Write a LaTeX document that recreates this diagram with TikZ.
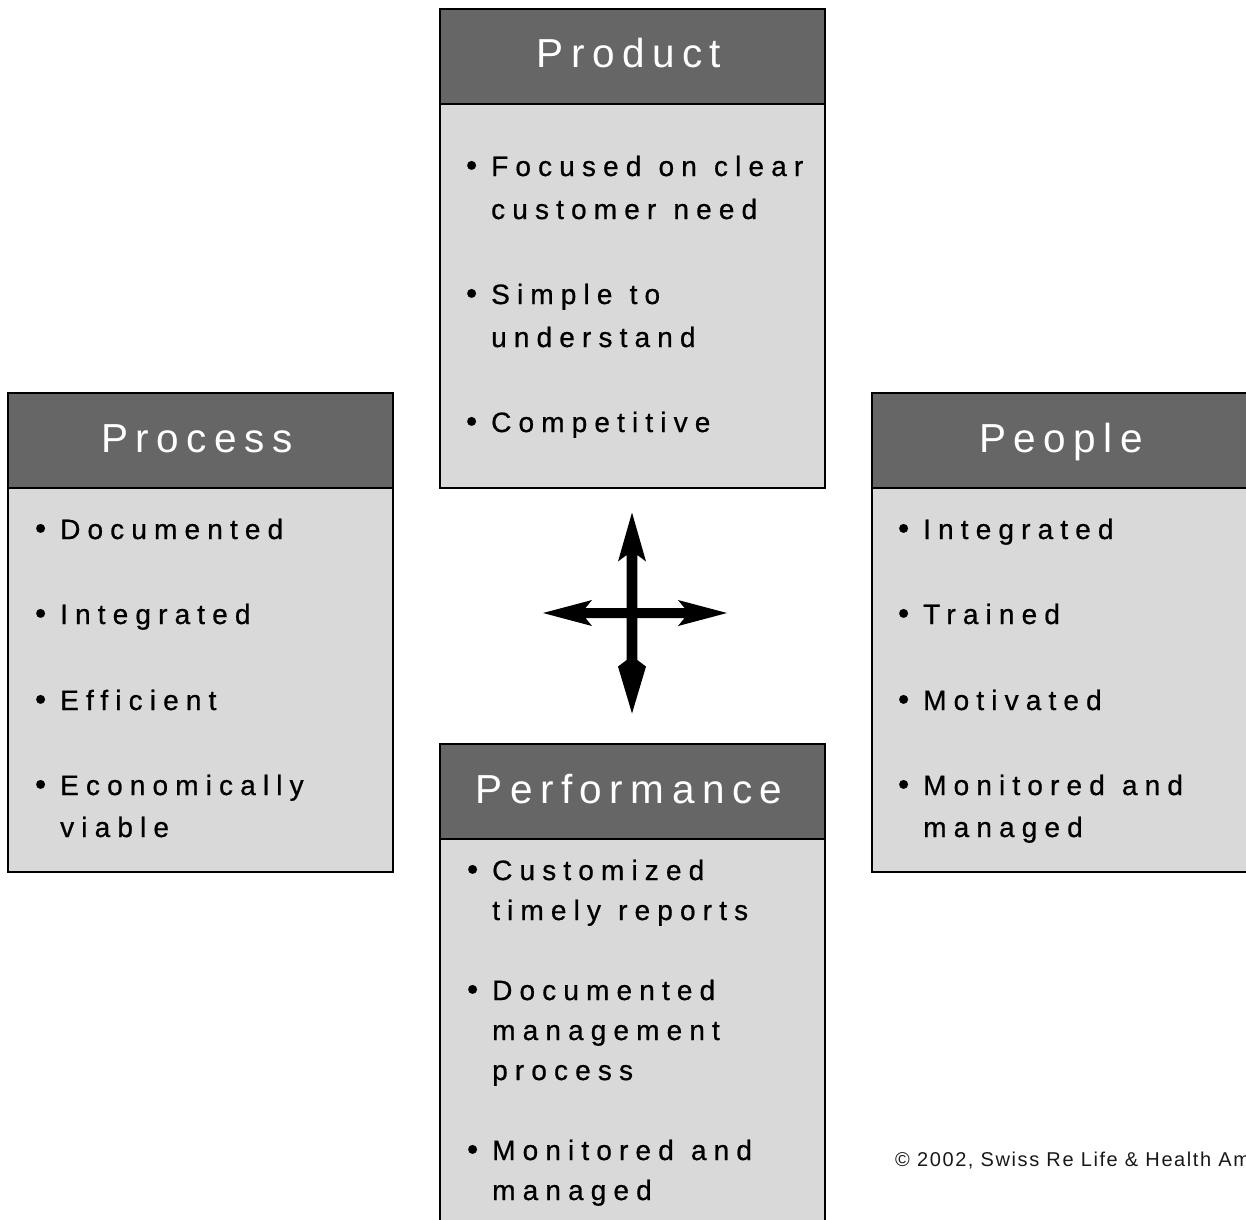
\documentclass[tikz,border=0pt]{standalone}
\usepackage{fontspec}
\setmainfont{Liberation Sans}
\newfontfamily\titlefont[LetterSpace=18.5]{Liberation Sans}
\newfontfamily\bodyfont[LetterSpace=25.5,WordSpace=1.15,FakeBold=0.7]{Liberation Sans}
\newfontfamily\bulfont[FakeBold=0.7]{Liberation Sans}
\newfontfamily\copyfont[LetterSpace=8]{Liberation Sans}
\definecolor{barcol}{HTML}{666666}
\definecolor{bodycol}{HTML}{D9D9D9}
\newcommand\bl{\llap{{\bulfont\fontsize{32}{34}\selectfont\textbullet}\hspace{14pt}}}
\begin{document}
\begin{tikzpicture}[x=1pt,y=-1pt,
  barbox/.style={draw=black, line width=1.3pt, fill=barcol, minimum width=385pt, minimum height=95pt, anchor=north west, inner sep=0pt, outer sep=0pt},
  bodybox/.style={draw=black, line width=1.3pt, fill=bodycol, minimum width=385pt, minimum height=384pt, anchor=north west, inner sep=0pt, outer sep=0pt},
  titletext/.style={anchor=base, inner sep=0pt, text=white, font=\titlefont\fontsize{40.5}{48}\selectfont},
  txtline/.style={anchor=base west, inner sep=0pt, font=\bodyfont\fontsize{28}{34}\selectfont},
  copytext/.style={anchor=base west, inner sep=0pt, text=black!90, font=\copyfont\fontsize{20}{24}\selectfont}]
\useasboundingbox (0,0) rectangle (1246,1219);
\fill[white] (0,0) rectangle (1246,1219);

% Product
\node[bodybox] (prodbody) at (440,104) {};
\node[barbox] (prodbar) at (440,9) {};
\node[titletext] (prodtitle) at (629,67) {Product};
\node[txtline] (pr1a) at (491,176) {\bl Focused on clear};
\node[txtline] (pr1b) at (491,219) {customer need};
\node[txtline] (pr2a) at (491,304) {\bl Simple to};
\node[txtline] (pr2b) at (491,347) {understand};
\node[txtline] (pr3a) at (491,432) {\bl Competitive};

% Process
\node[bodybox] (procbody) at (8,488) {};
\node[barbox] (procbar) at (8,393) {};
\node[titletext] (proctitle) at (197,452) {Process};
\node[txtline] (pc1) at (60,539) {\bl Documented};
\node[txtline] (pc2) at (60,624) {\bl Integrated};
\node[txtline] (pc3) at (60,710) {\bl Efficient};
\node[txtline] (pc4a) at (60,795) {\bl Economically};
\node[txtline] (pc4b) at (60,837) {viable};

% People
\node[bodybox] (peopbody) at (872,488) {};
\node[barbox] (peopbar) at (872,393) {};
\node[titletext] (peoptitle) at (1061,452) {People};
\node[txtline] (pe1) at (923,539) {\bl Integrated};
\node[txtline] (pe2) at (923,624) {\bl Trained};
\node[txtline] (pe3) at (923,710) {\bl Motivated};
\node[txtline] (pe4a) at (923,795) {\bl Monitored and};
\node[txtline] (pe4b) at (923,837) {managed};

% Performance
\node[bodybox] (perfbody) at (440,839) {};
\node[barbox] (perfbar) at (440,744) {};
\node[titletext] (perftitle) at (629,803) {Performance};
\node[txtline] (pf1a) at (492,880) {\bl Customized};
\node[txtline] (pf1b) at (492,920) {timely reports};
\node[txtline] (pf2a) at (492,1000) {\bl Documented};
\node[txtline] (pf2b) at (492,1040) {management};
\node[txtline] (pf2c) at (492,1080) {process};
\node[txtline] (pf3a) at (492,1160) {\bl Monitored and};
\node[txtline] (pf3b) at (492,1200) {managed};

% four-way arrow
\fill[black] (632,512.5) -- (646,561.5) -- (637.3,555) -- (637.3,660) -- (646,666.5)
  -- (632,713.5) -- (618,666.5) -- (626.7,660) -- (626.7,555) -- (618,561.5) -- cycle;
\fill[black] (543,613) -- (592,600) -- (585.5,608) -- (684.5,608) -- (678,600)
  -- (727,613) -- (678,626) -- (684.5,618) -- (585.5,618) -- (592,626) -- cycle;

% copyright (cut off at the right edge, as in the reference)
\node[copytext] (copy) at (895,1166) {\textcopyright{} 2002, Swiss Re Life \& Health Am};
\end{tikzpicture}
\end{document}
